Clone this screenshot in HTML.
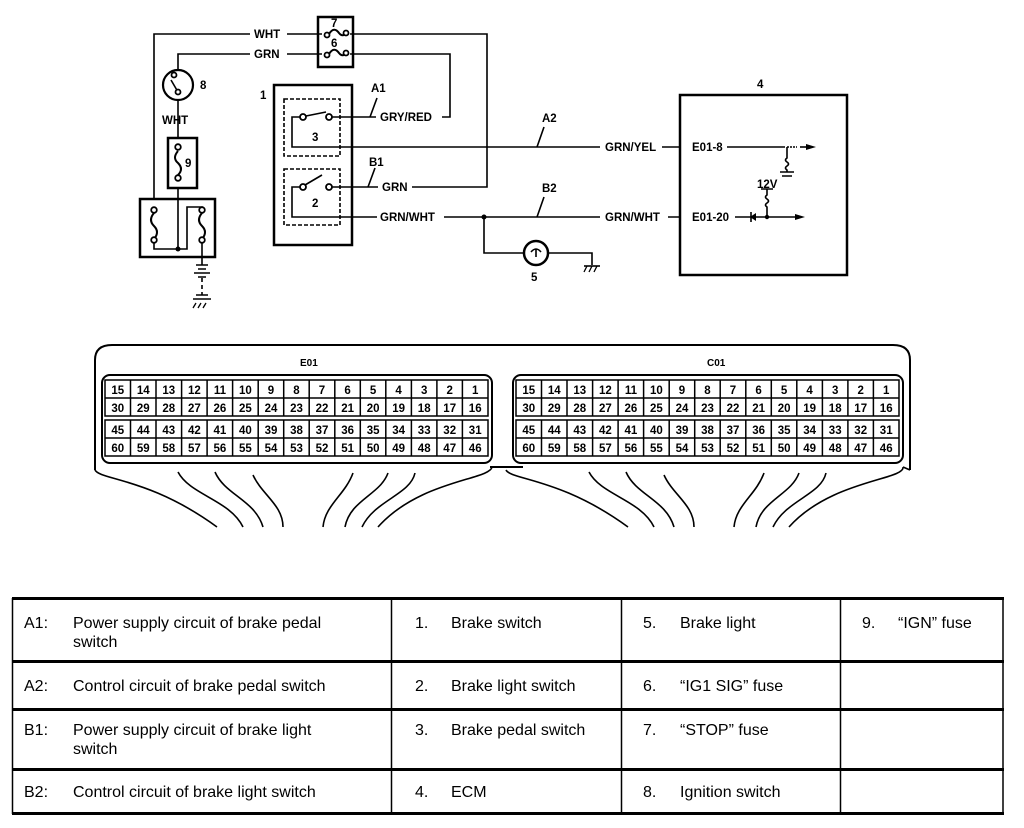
<!DOCTYPE html>
<html><head><meta charset="utf-8"><style>
html,body{margin:0;padding:0;background:#fff;}
svg{display:block;}
.l{font-family:"Liberation Sans",Arial,sans-serif;font-weight:bold;font-size:11.5px;fill:#000;}
.n{font-family:"Liberation Sans",Arial,sans-serif;font-weight:bold;font-size:11.5px;fill:#000;text-anchor:middle;}
.t{font-family:"Liberation Sans",Arial,sans-serif;font-size:16px;fill:#000;}
</style></head><body>
<svg width="1024" height="828" viewBox="0 0 1024 828" xmlns="http://www.w3.org/2000/svg">
<g fill="none" stroke="#000" stroke-width="1.6">
<path d="M154 199 V34 H250 M287 34 H322 M350 34 H487 V187 H412"/>
<path d="M178 71 V54 H250 M287 54 H322 M350 54 H450 V117 H442"/>
<rect x="318" y="17" width="35" height="50" stroke-width="2.5"/>
<path d="M329 34 q5 -8 10 -1 q4 5 8 -1 M329 54 q5 -8 10 -1 q4 5 8 -1" stroke-width="2"/>
<circle cx="178" cy="85" r="15" stroke-width="2.2"/>
<path d="M171 80 L178 92"/>
<path d="M178 100 V138"/>
<rect x="168" y="138" width="29" height="50" stroke-width="2.5"/>
<path d="M178 151 q-6 7 0 12 q6 6 0 12" stroke-width="2"/>
<path d="M178 188 V249 M154 240 V249 H178 M178 249 H187 V207 H202 V210"/>
<rect x="140" y="199" width="75" height="58" stroke-width="2.5"/>
<path d="M154 213 q-6 7 0 13 q6 6 0 13 M202 213 q-6 7 0 13 q6 6 0 13" stroke-width="2"/>
<path d="M202 240 V265"/>
<path d="M196 265 H208 M198 269 H206 M194 273 H210 M198 277 H206" stroke-width="1.4"/>
<path d="M202 278 V295" stroke-dasharray="4 3"/>
<path d="M196 295 H208 M193 299 H211"/>
<path d="M196 303 l-3 5 M201 303 l-3 5 M206 303 l-3 5" stroke-width="1.3"/>
<rect x="274" y="85" width="78" height="160" stroke-width="2.5"/>
<rect x="284" y="99" width="56" height="57" stroke-dasharray="4 2" stroke-width="1.6"/>
<rect x="284" y="169" width="56" height="56" stroke-dasharray="4 2" stroke-width="1.6"/>
<path d="M306 116 L326 112"/>
<path d="M305 185 L322 175"/>
<path d="M332 117 H376 M300 117 H292 V147 H600 M662 147 H680"/>
<path d="M332 187 H378 M300 187 H292 V217 H377 M444 217 H600 M668 217 H680"/>
<path d="M370 117 L377 98 M368 187 L375 168 M537 147 L544 127 M537 217 L544 197"/>
<path d="M484 217 V253 H524 M548 253 H592 V265"/>
<circle cx="536" cy="253" r="12" stroke-width="2.5"/>
<path d="M531 252 q5 -6 10 0 M536 249 V257"/>
<path d="M584 266 H600"/>
<path d="M587 266 l-3 6 M592 266 l-3 6 M597 266 l-3 6" stroke-width="1.3"/>
<rect x="680" y="95" width="167" height="180" stroke-width="2.5"/>
<path d="M727 147 H785 M787 147 V158 q-3 2 0 4 q3 2 0 4 q-3 2 0 4 V172 M780 172 H794 M782 176 H792"/>
<path d="M787 147 H797" stroke-dasharray="2 1"/>
<path d="M800 147 H806"/>
<path d="M735 217 H800 M767 189 V195 q-3 2 0 4 q3 2 0 4 q-3 2 0 4 V217 M761 189 H773"/>
<path d="M751 212 V222"/>
</g>
<g fill="#fff" stroke="#000" stroke-width="1.8">
<circle cx="327" cy="35" r="2.5"/><circle cx="346" cy="33" r="2.5"/>
<circle cx="327" cy="55" r="2.5"/><circle cx="346" cy="53" r="2.5"/>
<circle cx="174" cy="75" r="2.5"/><circle cx="178" cy="92" r="2.5"/>
<circle cx="178" cy="147" r="2.8"/><circle cx="178" cy="178" r="2.8"/>
<circle cx="154" cy="210" r="2.8"/><circle cx="154" cy="240" r="2.8"/>
<circle cx="202" cy="210" r="2.8"/><circle cx="202" cy="240" r="2.8"/>
<circle cx="303" cy="117" r="3"/><circle cx="329" cy="117" r="3"/>
<circle cx="303" cy="187" r="3"/><circle cx="329" cy="187" r="3"/>
</g>
<circle cx="178" cy="249" r="2.5"/>
<circle cx="484" cy="217" r="2.5"/>
<circle cx="767" cy="217" r="2.2"/>
<path d="M806 144 L816 147 L806 150 Z"/>
<path d="M795 214 L805 217 L795 220 Z"/>
<path d="M756 213 L750 217 L756 221 Z"/>
<g class="l">
<text x="254" y="38">WHT</text><text x="254" y="58">GRN</text>
<text x="331" y="27">7</text><text x="331" y="47">6</text>
<text x="200" y="89">8</text><text x="162" y="124">WHT</text>
<text x="185" y="167">9</text><text x="260" y="99">1</text>
<text x="312" y="141">3</text><text x="312" y="207">2</text>
<text x="371" y="92">A1</text><text x="380" y="121">GRY/RED</text>
<text x="369" y="166">B1</text><text x="382" y="191">GRN</text>
<text x="380" y="221">GRN/WHT</text>
<text x="542" y="122">A2</text><text x="542" y="192">B2</text>
<text x="605" y="151">GRN/YEL</text><text x="605" y="221">GRN/WHT</text>
<text x="692" y="151">E01-8</text><text x="692" y="221">E01-20</text>
<text x="757" y="188">12V</text><text x="757" y="88">4</text>
<text x="531" y="281">5</text>
<text x="300" y="366" style="font-size:10px">E01</text>
<text x="707" y="366" style="font-size:10px">C01</text>
</g>
<g fill="none" stroke="#000" stroke-width="2">
<path d="M95 470 V360 Q95 345 112 345 H893 Q910 345 910 360 V470"/>
<path d="M490 467 H523"/>
<rect x="102" y="375" width="390" height="88" rx="8"/>
<rect x="513" y="375" width="390" height="88" rx="8"/>
</g>
<g fill="none" stroke="#000" stroke-width="1.6">
<path d="M95 470 C100 480 150 478 217 527 M178 472 C190 495 230 500 243 527 M215 472 C225 495 255 500 263 527 M253 475 C262 495 283 505 283 527 M353 473 C345 495 325 505 323 527 M388 473 C380 495 350 500 345 527 M415 473 C410 495 375 500 362 527 M492 467 C490 480 420 480 378 527"/>
<path d="M506 470 C511 480 561 478 628 527 M589 472 C601 495 641 500 654 527 M626 472 C636 495 666 500 674 527 M664 475 C673 495 694 505 694 527 M764 473 C756 495 736 505 734 527 M799 473 C791 495 761 500 756 527 M826 473 C821 495 786 500 773 527 M903 467 C905 480 831 480 789 527 M910 470 L903 467"/>
</g>
<g fill="none" stroke="#000" stroke-width="1.5">
<rect x="105" y="380" width="383" height="36"/><rect x="105" y="420" width="383" height="36"/>
<path d="M105 398 H488 M105 438 H488"/>
<path d="M130.5 380 V416 M156 380 V416 M181.6 380 V416 M207.1 380 V416 M232.6 380 V416 M258.2 380 V416 M283.7 380 V416 M309.2 380 V416 M334.8 380 V416 M360.3 380 V416 M385.8 380 V416 M411.4 380 V416 M436.9 380 V416 M462.4 380 V416"/>
<path d="M130.5 420 V456 M156 420 V456 M181.6 420 V456 M207.1 420 V456 M232.6 420 V456 M258.2 420 V456 M283.7 420 V456 M309.2 420 V456 M334.8 420 V456 M360.3 420 V456 M385.8 420 V456 M411.4 420 V456 M436.9 420 V456 M462.4 420 V456"/>
<rect x="516" y="380" width="383" height="36"/><rect x="516" y="420" width="383" height="36"/>
<path d="M516 398 H899 M516 438 H899"/>
<path d="M541.5 380 V416 M567 380 V416 M592.6 380 V416 M618.1 380 V416 M643.6 380 V416 M669.2 380 V416 M694.7 380 V416 M720.2 380 V416 M745.8 380 V416 M771.3 380 V416 M796.8 380 V416 M822.4 380 V416 M847.9 380 V416 M873.4 380 V416"/>
<path d="M541.5 420 V456 M567 420 V456 M592.6 420 V456 M618.1 420 V456 M643.6 420 V456 M669.2 420 V456 M694.7 420 V456 M720.2 420 V456 M745.8 420 V456 M771.3 420 V456 M796.8 420 V456 M822.4 420 V456 M847.9 420 V456 M873.4 420 V456"/>
</g>
<g class="n">
<text x="117.8" y="394">15</text><text x="143.3" y="394">14</text><text x="168.8" y="394">13</text><text x="194.4" y="394">12</text><text x="219.9" y="394">11</text><text x="245.4" y="394">10</text><text x="271" y="394">9</text><text x="296.5" y="394">8</text><text x="322" y="394">7</text><text x="347.6" y="394">6</text><text x="373.1" y="394">5</text><text x="398.6" y="394">4</text><text x="424.2" y="394">3</text><text x="449.7" y="394">2</text><text x="475.2" y="394">1</text>
<text x="117.8" y="412">30</text><text x="143.3" y="412">29</text><text x="168.8" y="412">28</text><text x="194.4" y="412">27</text><text x="219.9" y="412">26</text><text x="245.4" y="412">25</text><text x="271" y="412">24</text><text x="296.5" y="412">23</text><text x="322" y="412">22</text><text x="347.6" y="412">21</text><text x="373.1" y="412">20</text><text x="398.6" y="412">19</text><text x="424.2" y="412">18</text><text x="449.7" y="412">17</text><text x="475.2" y="412">16</text>
<text x="117.8" y="434">45</text><text x="143.3" y="434">44</text><text x="168.8" y="434">43</text><text x="194.4" y="434">42</text><text x="219.9" y="434">41</text><text x="245.4" y="434">40</text><text x="271" y="434">39</text><text x="296.5" y="434">38</text><text x="322" y="434">37</text><text x="347.6" y="434">36</text><text x="373.1" y="434">35</text><text x="398.6" y="434">34</text><text x="424.2" y="434">33</text><text x="449.7" y="434">32</text><text x="475.2" y="434">31</text>
<text x="117.8" y="452">60</text><text x="143.3" y="452">59</text><text x="168.8" y="452">58</text><text x="194.4" y="452">57</text><text x="219.9" y="452">56</text><text x="245.4" y="452">55</text><text x="271" y="452">54</text><text x="296.5" y="452">53</text><text x="322" y="452">52</text><text x="347.6" y="452">51</text><text x="373.1" y="452">50</text><text x="398.6" y="452">49</text><text x="424.2" y="452">48</text><text x="449.7" y="452">47</text><text x="475.2" y="452">46</text>
<text x="528.8" y="394">15</text><text x="554.3" y="394">14</text><text x="579.8" y="394">13</text><text x="605.4" y="394">12</text><text x="630.9" y="394">11</text><text x="656.4" y="394">10</text><text x="682" y="394">9</text><text x="707.5" y="394">8</text><text x="733" y="394">7</text><text x="758.6" y="394">6</text><text x="784.1" y="394">5</text><text x="809.6" y="394">4</text><text x="835.2" y="394">3</text><text x="860.7" y="394">2</text><text x="886.2" y="394">1</text>
<text x="528.8" y="412">30</text><text x="554.3" y="412">29</text><text x="579.8" y="412">28</text><text x="605.4" y="412">27</text><text x="630.9" y="412">26</text><text x="656.4" y="412">25</text><text x="682" y="412">24</text><text x="707.5" y="412">23</text><text x="733" y="412">22</text><text x="758.6" y="412">21</text><text x="784.1" y="412">20</text><text x="809.6" y="412">19</text><text x="835.2" y="412">18</text><text x="860.7" y="412">17</text><text x="886.2" y="412">16</text>
<text x="528.8" y="434">45</text><text x="554.3" y="434">44</text><text x="579.8" y="434">43</text><text x="605.4" y="434">42</text><text x="630.9" y="434">41</text><text x="656.4" y="434">40</text><text x="682" y="434">39</text><text x="707.5" y="434">38</text><text x="733" y="434">37</text><text x="758.6" y="434">36</text><text x="784.1" y="434">35</text><text x="809.6" y="434">34</text><text x="835.2" y="434">33</text><text x="860.7" y="434">32</text><text x="886.2" y="434">31</text>
<text x="528.8" y="452">60</text><text x="554.3" y="452">59</text><text x="579.8" y="452">58</text><text x="605.4" y="452">57</text><text x="630.9" y="452">56</text><text x="656.4" y="452">55</text><text x="682" y="452">54</text><text x="707.5" y="452">53</text><text x="733" y="452">52</text><text x="758.6" y="452">51</text><text x="784.1" y="452">50</text><text x="809.6" y="452">49</text><text x="835.2" y="452">48</text><text x="860.7" y="452">47</text><text x="886.2" y="452">46</text>
</g>
<g stroke="#000" fill="none">
<path d="M12 598.5 H1004 M12 661.5 H1004 M12 709.5 H1004 M12 769.5 H1004 M12 813.5 H1004" stroke-width="3"/>
<path d="M12.5 598 V814 M391.5 598 V814 M621.5 598 V814 M840.5 598 V814 M1003 598 V814" stroke-width="1.5"/>
</g>
<g class="t">
<text x="24" y="628">A1:</text><text x="73" y="628">Power supply circuit of brake pedal</text><text x="73" y="647">switch</text>
<text x="24" y="691">A2:</text><text x="73" y="691">Control circuit of brake pedal switch</text>
<text x="24" y="735">B1:</text><text x="73" y="735">Power supply circuit of brake light</text><text x="73" y="754">switch</text>
<text x="24" y="797">B2:</text><text x="73" y="797">Control circuit of brake light switch</text>
<text x="415" y="628">1.</text><text x="451" y="628">Brake switch</text>
<text x="415" y="691">2.</text><text x="451" y="691">Brake light switch</text>
<text x="415" y="735">3.</text><text x="451" y="735">Brake pedal switch</text>
<text x="415" y="797">4.</text><text x="451" y="797">ECM</text>
<text x="643" y="628">5.</text><text x="680" y="628">Brake light</text>
<text x="643" y="691">6.</text><text x="680" y="691">“IG1 SIG” fuse</text>
<text x="643" y="735">7.</text><text x="680" y="735">“STOP” fuse</text>
<text x="643" y="797">8.</text><text x="680" y="797">Ignition switch</text>
<text x="862" y="628">9.</text><text x="898" y="628">“IGN” fuse</text>
</g>
</svg>
</body></html>
